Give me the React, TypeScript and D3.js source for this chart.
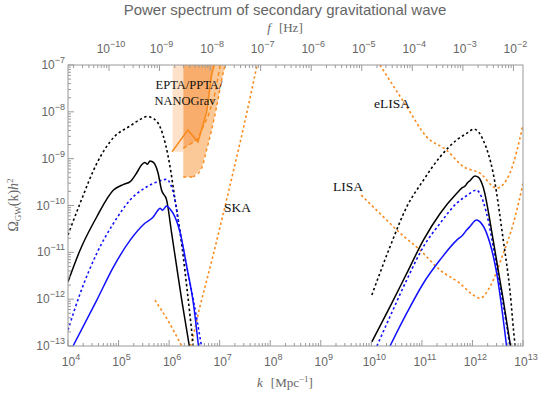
import React from 'react';
import * as d3 from 'd3';

// values are [log10 k (Mpc^-1), log10 Omega_GW h^2]
const blackDottedLow = [[4.0, -10.63], [4.24, -9.95], [4.57, -9.1], [4.9, -8.55], [5.23, -8.3], [5.45, -8.15], [5.56, -8.1], [5.7, -8.15], [5.82, -8.32], [5.93, -8.7], [6.02, -9.18], [6.12, -9.9], [6.22, -10.59], [6.35, -11.74], [6.48, -13.02]];
const blackSolidLow = [[4.0, -11.63], [4.24, -10.95], [4.57, -10.24], [4.9, -9.67], [5.1, -9.55], [5.23, -9.49], [5.36, -9.3], [5.45, -9.14], [5.52, -9.08], [5.57, -9.12], [5.62, -9.05], [5.66, -9.06], [5.72, -9.12], [5.78, -9.3], [5.85, -9.67], [5.95, -9.88], [6.05, -10.59], [6.15, -11.31], [6.25, -12.02], [6.4, -13.0]];
const blueDottedLow = [[4.0, -12.66], [4.24, -11.88], [4.57, -11.02], [4.9, -10.38], [5.23, -9.88], [5.56, -9.6], [5.8, -9.48], [5.95, -9.44], [6.03, -9.55], [6.1, -9.8], [6.22, -10.59], [6.35, -11.31], [6.48, -12.02], [6.64, -13.0]];
const blueSolidLow = [[4.1, -13.0], [4.57, -12.02], [4.9, -11.31], [5.23, -10.74], [5.52, -10.38], [5.69, -10.24], [5.78, -10.1], [5.82, -10.06], [5.87, -10.1], [5.95, -10.01], [6.02, -10.08], [6.08, -10.17], [6.22, -10.59], [6.35, -11.31], [6.48, -12.09], [6.58, -13.0]];

const blackDottedHigh = [[10.01, -11.91], [10.37, -10.88], [10.7, -10.03], [11.03, -9.46], [11.36, -8.96], [11.69, -8.6], [11.9, -8.45], [12.02, -8.37], [12.12, -8.43], [12.21, -8.6], [12.41, -9.31], [12.61, -10.74], [12.74, -11.8], [12.84, -12.94], [12.86, -13.1]];
const blackSolidHigh = [[10.01, -12.91], [10.37, -12.16], [10.7, -11.45], [11.03, -10.74], [11.36, -10.17], [11.69, -9.74], [11.8, -9.62], [11.86, -9.58], [11.89, -9.53], [11.95, -9.47], [12.05, -9.37], [12.12, -9.4], [12.21, -9.6], [12.41, -10.74], [12.61, -12.02], [12.76, -13.05]];
const blueDottedHigh = [[10.11, -13.0], [10.37, -12.37], [10.7, -11.59], [11.03, -10.88], [11.36, -10.38], [11.69, -9.95], [11.9, -9.78], [12.08, -9.67], [12.15, -9.75], [12.28, -10.17], [12.48, -11.31], [12.67, -12.52], [12.75, -13.05]];
const blueSolidHigh = [[10.37, -13.0], [10.7, -12.3], [11.03, -11.66], [11.36, -11.16], [11.69, -10.74], [11.8, -10.64], [11.89, -10.52], [11.95, -10.45], [12.08, -10.31], [12.15, -10.35], [12.28, -10.59], [12.48, -11.45], [12.68, -13.05]];

// sensitivity curves
const elisa = [[10.17, -7.0], [10.7, -7.89], [11.09, -8.53], [11.49, -8.82], [11.82, -9.17], [12.15, -9.31], [12.48, -9.63], [12.74, -9.31], [13.0, -8.28]];
const lisa = [[9.8, -9.78], [10.17, -10.17], [10.57, -10.59], [10.96, -10.95], [11.36, -11.38], [11.75, -11.66], [12.0, -11.9], [12.15, -11.98], [12.35, -11.73], [12.61, -11.02], [12.81, -10.38], [13.0, -9.53]];
const skaLeft = [[5.72, -12.02], [6.0, -12.5], [6.25, -13.0], [6.3, -13.1]];
const skaRight = [[6.38, -13.1], [6.42, -13.0], [6.6, -12.2], [6.85, -11.15], [7.24, -9.41], [7.5, -8.2], [7.74, -7.0]];

// pulsar timing arrays
const ptaSolid = [[6.06, -8.85], [6.37, -8.39], [6.57, -8.64], [6.74, -8.02], [6.84, -7.21], [6.89, -7.0]];
const ptaDashedInner = [[6.28, -8.78], [6.55, -8.6], [6.77, -8.1], [6.91, -7.6], [7.01, -7.0]];
const ptaDashedOuter = [[6.28, -9.39], [6.47, -9.39], [6.64, -9.21], [6.74, -8.82], [6.84, -8.39], [6.94, -7.89], [7.07, -7.17], [7.11, -7.0]];
const ptaLightLeft = 6.07;
const ptaLightRight = 6.28;
const ptaLightBottom = -8.85;

const kTicks = [4, 5, 6, 7, 8, 9, 10, 11, 12, 13];
const omegaTicks = [-13, -12, -11, -10, -9, -8, -7];
const fTicks = [-10, -9, -8, -7, -6, -5, -4, -3, -2];
const fPerK = 1.546e-15; // Hz per Mpc^-1

const ORANGE = '#f98a1c';
const GRAY = '#9a9a9a';
const LABEL = '#666';

const x = d3.scaleLog().domain([1e4, 1e13]).range([68, 523]);
const y = d3.scaleLog().domain([1e-13, 1e-7]).range([346, 65]);

const px = (p: number[]) => x(Math.pow(10, p[0]));
const py = (p: number[]) => y(Math.pow(10, p[1]));

const smooth = d3.line<number[]>().x(px).y(py).curve(d3.curveMonotoneX);
const straight = d3.line<number[]>().x(px).y(py);
const area = (pts: number[][]) => straight(pts) + 'Z';

const Pow = ({ e }: { e: number }) => (
  <>
    <tspan>10</tspan>
    <tspan dy={-6} fontSize={9}>{e < 0 ? '\u2212' + Math.abs(e) : e}</tspan>
  </>
);

export default function App() {
  const [x0, x1] = x.range();
  const [y0, y1] = y.range();

  const kMinor: number[] = [];
  for (let e = 4; e < 13; e++) for (let m = 2; m < 10; m++) kMinor.push(m * Math.pow(10, e));
  const oMinor: number[] = [];
  for (let e = -13; e < -7; e++) for (let m = 2; m < 10; m++) oMinor.push(m * Math.pow(10, e));
  const fMinor: number[] = [];
  for (let e = -11; e < -1; e++)
    for (let m = 2; m < 10; m++) {
      const k = (m * Math.pow(10, e)) / fPerK;
      if (k > 1e4 && k < 1e13) fMinor.push(k);
    }

  const dotted = { fill: 'none', strokeWidth: 1.6, strokeDasharray: '2.4 2.6' };

  return (
    <svg width={540} height={396} style={{ position: 'absolute', left: 0, top: 0 }} fontFamily="'Liberation Sans', Arial, sans-serif">
      <defs>
        <clipPath id="plot">
          <rect x={x0} y={y1} width={x1 - x0} height={y0 - y1} />
        </clipPath>
      </defs>

      <text x={285} y={15} textAnchor="middle" fontSize={15} fill={LABEL}>Power spectrum of secondary gravitational wave</text>
      <text x={285} y={32} textAnchor="middle" fontSize={13} fill={LABEL} fontFamily="'Liberation Serif', serif">
        <tspan fontStyle="italic">f</tspan>
        <tspan dx={8}>[Hz]</tspan>
      </text>

      <g clipPath="url(#plot)">
        {/* PTA shaded regions */}
        <path d={area([[ptaDashedOuter[0][0], -7], ...ptaDashedOuter])} fill="#fbc898" />
        <path d={area([[ptaDashedInner[0][0], -7], ...ptaDashedInner.slice(0, 2), ...ptaSolid.slice(3)])} fill="#f8ad6c" />
        <path d={area([[ptaLightLeft, -7], [ptaLightLeft, ptaLightBottom], [ptaLightRight, ptaLightBottom], [ptaLightRight, -7]])} fill="#fde1c8" />
        <path d={straight(ptaSolid) || ''} fill="none" stroke={ORANGE} strokeWidth={1.6} />
        <path d={straight(ptaDashedInner) || ''} fill="none" stroke={ORANGE} strokeWidth={1.4} strokeDasharray="4 3" />
        <path d={smooth(ptaDashedOuter.slice(1)) || ''} fill="none" stroke={ORANGE} strokeWidth={1.4} strokeDasharray="3 3" />
        <path d={straight(ptaDashedOuter.slice(0, 2)) || ''} fill="none" stroke={ORANGE} strokeWidth={1.4} strokeDasharray="3 3" />

        {/* detector sensitivities */}
        <path d={smooth(elisa) || ''} stroke={ORANGE} {...dotted} />
        <path d={smooth(lisa) || ''} stroke={ORANGE} {...dotted} />
        <path d={smooth(skaLeft) || ''} stroke={ORANGE} {...dotted} />
        <path d={smooth(skaRight) || ''} stroke={ORANGE} {...dotted} />

        {/* spectra */}
        <path d={smooth(blackDottedLow) || ''} stroke="#000" {...dotted} />
        <path d={smooth(blueDottedLow) || ''} stroke="#1010ff" {...dotted} />
        <path d={smooth(blackSolidLow) || ''} fill="none" stroke="#000" strokeWidth={1.5} />
        <path d={smooth(blueSolidLow) || ''} fill="none" stroke="#1010ff" strokeWidth={1.5} />
        <path d={smooth(blackDottedHigh) || ''} stroke="#000" {...dotted} />
        <path d={smooth(blueDottedHigh) || ''} stroke="#1010ff" {...dotted} />
        <path d={smooth(blackSolidHigh) || ''} fill="none" stroke="#000" strokeWidth={1.5} />
        <path d={smooth(blueSolidHigh) || ''} fill="none" stroke="#1010ff" strokeWidth={1.5} />
      </g>

      <g fontFamily="'Liberation Serif', 'Times New Roman', serif" fontSize={13.5} fill="#111">
        <text x={189} y={89} textAnchor="middle" fontSize={12.5}>EPTA/PPTA/</text>
        <text x={185} y={105} textAnchor="middle" fontSize={12.5}>NANOGrav</text>
        <text x={374} y={108}>eLISA</text>
        <text x={333} y={191}>LISA</text>
        <text x={224} y={212}>SKA</text>
      </g>

      {/* frame */}
      <rect x={x0} y={y1} width={x1 - x0} height={y0 - y1} fill="none" stroke={GRAY} strokeWidth={1} />

      <g stroke={GRAY} strokeWidth={1}>
        {kTicks.map(e => <line key={'kb' + e} x1={x(Math.pow(10, e))} x2={x(Math.pow(10, e))} y1={y0} y2={y0 - 6} />)}
        {kMinor.map((k, i) => <line key={'km' + i} x1={x(k)} x2={x(k)} y1={y0} y2={y0 - 3} />)}
        {omegaTicks.map(e => <line key={'ol' + e} x1={x0} x2={x0 + 6} y1={y(Math.pow(10, e))} y2={y(Math.pow(10, e))} />)}
        {oMinor.map((o, i) => <line key={'om' + i} x1={x0} x2={x0 + 3} y1={y(o)} y2={y(o)} />)}
        {fTicks.map(e => {
          const k = Math.pow(10, e) / fPerK;
          return <line key={'ft' + e} x1={x(k)} x2={x(k)} y1={y1} y2={y1 + 6} />;
        })}
        {fMinor.map((k, i) => <line key={'fm' + i} x1={x(k)} x2={x(k)} y1={y1} y2={y1 + 3} />)}
      </g>

      <g fontSize={12} fill={LABEL}>
        {kTicks.map(e => (
          <text key={'kl' + e} x={x(Math.pow(10, e)) + 3} y={366} textAnchor="middle"><Pow e={e} /></text>
        ))}
        {omegaTicks.map(e => (
          <text key={'oll' + e} x={x0 - 3} y={y(Math.pow(10, e)) + 4} textAnchor="end"><Pow e={e} /></text>
        ))}
        {fTicks.map(e => (
          <text key={'fl' + e} x={x(Math.pow(10, e) / fPerK) + 2} y={53} textAnchor="middle"><Pow e={e} /></text>
        ))}
      </g>

      <text x={285} y={387} textAnchor="middle" fontSize={13} fill={LABEL} fontFamily="'Liberation Serif', serif">
        <tspan fontStyle="italic">k</tspan>
        <tspan dx={8}>[Mpc</tspan>
        <tspan dy={-5} fontSize={9}>{'\u2212'}1</tspan>
        <tspan dy={5}>]</tspan>
      </text>

      <text transform="translate(18,205) rotate(-90)" textAnchor="middle" fontSize={14} fill={LABEL} fontFamily="'Liberation Serif', serif">
        <tspan>{'\u03A9'}</tspan>
        <tspan dy={3} fontSize={9}>GW</tspan>
        <tspan dy={-3}>(k)</tspan>
        <tspan fontStyle="italic">h</tspan>
        <tspan dy={-5} fontSize={9}>2</tspan>
      </text>
    </svg>
  );
}
